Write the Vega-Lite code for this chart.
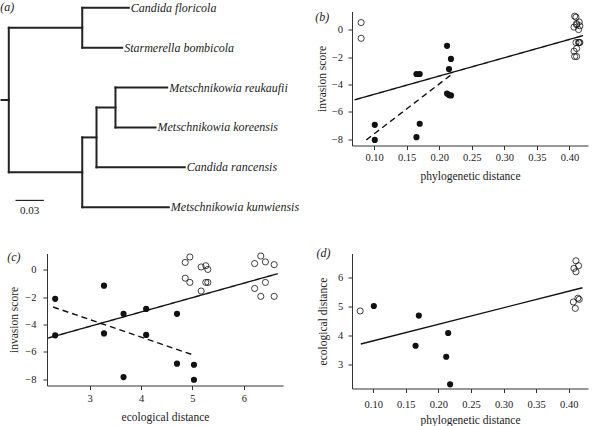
{
  "$schema": "https://vega.github.io/schema/vega-lite/v6.json",
  "padding": {"left": 0, "top": 0.5, "right": 5, "bottom": 0},
  "background": "white",
  "columns": 2,
  "spacing": {"row": 108, "column": 69},
  "bounds": "flush",
  "align": "each",
  "datasets": {
    "tree": [
      {"x": -0.0077, "x2": 0, "y": 2.3125, "y2": 2.3125},
      {"x": 0, "x2": 0, "y": 0.5, "y2": 4.125},
      {"x": 0, "x2": 0.0778, "y": 0.5, "y2": 0.5},
      {"x": 0, "x2": 0.0778, "y": 4.125, "y2": 4.125},
      {"x": 0.0778, "x2": 0.0778, "y": 0, "y2": 1},
      {"x": 0.0778, "x2": 0.1271, "y": 0, "y2": 0},
      {"x": 0.0778, "x2": 0.1201, "y": 1, "y2": 1},
      {"x": 0.0778, "x2": 0.0778, "y": 3.25, "y2": 5},
      {"x": 0.0778, "x2": 0.0929, "y": 3.25, "y2": 3.25},
      {"x": 0.0778, "x2": 0.1695, "y": 5, "y2": 5},
      {"x": 0.0929, "x2": 0.0929, "y": 2.5, "y2": 4},
      {"x": 0.0929, "x2": 0.113, "y": 2.5, "y2": 2.5},
      {"x": 0.0929, "x2": 0.1864, "y": 4, "y2": 4},
      {"x": 0.113, "x2": 0.113, "y": 2, "y2": 3},
      {"x": 0.113, "x2": 0.1678, "y": 2, "y2": 2},
      {"x": 0.113, "x2": 0.1554, "y": 3, "y2": 3}
    ],
    "tips": [
      {"x": 0.1271, "y": 0, "name": "Candida floricola"},
      {"x": 0.1201, "y": 1, "name": "Starmerella bombicola"},
      {"x": 0.1678, "y": 2, "name": "Metschnikowia reukaufii"},
      {"x": 0.1554, "y": 3, "name": "Metschnikowia koreensis"},
      {"x": 0.1864, "y": 4, "name": "Candida rancensis"},
      {"x": 0.1695, "y": 5, "name": "Metschnikowia kunwiensis"}
    ],
    "scalebar": [
      {"x": 0.0071, "x2": 0.0371, "y": 4.83, "ly": 5.1, "mid": 0.0221, "label": "0.03"}
    ],
    "scores": [
      {"phylo": 0.101, "eco": 5.03, "score": -6.95, "closed": true},
      {"phylo": 0.101, "eco": 5.03, "score": -8.05, "closed": true},
      {"phylo": 0.165, "eco": 3.66, "score": -3.23, "closed": true},
      {"phylo": 0.165, "eco": 3.66, "score": -7.85, "closed": true},
      {"phylo": 0.17, "eco": 4.7, "score": -3.23, "closed": true},
      {"phylo": 0.17, "eco": 4.7, "score": -6.87, "closed": true},
      {"phylo": 0.212, "eco": 3.28, "score": -1.17, "closed": true},
      {"phylo": 0.212, "eco": 3.28, "score": -4.66, "closed": true},
      {"phylo": 0.215, "eco": 4.1, "score": -2.87, "closed": true},
      {"phylo": 0.215, "eco": 4.1, "score": -4.77, "closed": true},
      {"phylo": 0.218, "eco": 2.33, "score": -2.13, "closed": true},
      {"phylo": 0.218, "eco": 2.33, "score": -4.8, "closed": true},
      {"phylo": 0.08, "eco": 4.86, "score": 0.53, "closed": false},
      {"phylo": 0.08, "eco": 4.86, "score": -0.62, "closed": false},
      {"phylo": 0.41, "eco": 4.95, "score": 0.93, "closed": false},
      {"phylo": 0.41, "eco": 4.95, "score": -0.93, "closed": false},
      {"phylo": 0.407, "eco": 5.17, "score": 0.2, "closed": false},
      {"phylo": 0.407, "eco": 5.17, "score": -1.56, "closed": false},
      {"phylo": 0.416, "eco": 5.26, "score": 0.29, "closed": false},
      {"phylo": 0.416, "eco": 5.26, "score": -0.93, "closed": false},
      {"phylo": 0.414, "eco": 5.3, "score": 0.02, "closed": false},
      {"phylo": 0.414, "eco": 5.3, "score": -0.93, "closed": false},
      {"phylo": 0.411, "eco": 6.21, "score": 0.45, "closed": false},
      {"phylo": 0.411, "eco": 6.21, "score": -1.37, "closed": false},
      {"phylo": 0.408, "eco": 6.33, "score": 1.0, "closed": false},
      {"phylo": 0.408, "eco": 6.33, "score": -1.95, "closed": false},
      {"phylo": 0.415, "eco": 6.42, "score": 0.57, "closed": false},
      {"phylo": 0.415, "eco": 6.42, "score": -0.93, "closed": false},
      {"phylo": 0.411, "eco": 6.59, "score": 0.37, "closed": false},
      {"phylo": 0.411, "eco": 6.59, "score": -1.95, "closed": false}
    ],
    "fits": [
      {"panel": "b", "style": "solid", "phylo": 0.07, "score": -5.12},
      {"panel": "b", "style": "solid", "phylo": 0.421, "score": -0.42},
      {"panel": "b", "style": "dashed", "phylo": 0.088, "score": -8.05},
      {"panel": "b", "style": "dashed", "phylo": 0.222, "score": -3.15},
      {"panel": "c", "style": "solid", "eco": 2.19, "score": -5.0},
      {"panel": "c", "style": "solid", "eco": 6.66, "score": -0.29},
      {"panel": "c", "style": "dashed", "eco": 2.29, "score": -2.73},
      {"panel": "c", "style": "dashed", "eco": 5.02, "score": -6.24},
      {"panel": "d", "style": "solid", "phylo": 0.081, "eco": 3.72},
      {"panel": "d", "style": "solid", "phylo": 0.421, "eco": 5.66}
    ],
    "labels": [
      {"panel": "a", "label": "(a)"},
      {"panel": "b", "label": "(b)"},
      {"panel": "c", "label": "(c)"},
      {"panel": "d", "label": "(d)"}
    ]
  },
  "concat": [
    {
      "width": 236,
      "height": 134,
      "layer": [
        {
          "data": {"name": "tree"},
          "mark": {"type": "rule", "strokeWidth": 2, "color": "#222", "strokeCap": "square"},
          "encoding": {
            "x": {"field": "x", "type": "quantitative", "scale": {"domain": [0.04047, 0.29047], "nice": false, "zero": false}, "axis": null},
            "x2": {"field": "x2"},
            "y": {"field": "y", "type": "quantitative", "scale": {"domain": [0.0928, 3.4529], "reverse": true, "nice": false, "zero": false}, "axis": null},
            "y2": {"field": "y2"}
          }
        },
        {
          "data": {"name": "tips"},
          "mark": {"type": "text", "align": "left", "baseline": "middle", "dx": 2, "font": "Liberation Serif", "fontStyle": "italic", "fontSize": 12, "color": "#222"},
          "encoding": {
            "x": {"field": "x", "type": "quantitative"},
            "y": {"field": "y", "type": "quantitative"},
            "text": {"field": "name"}
          }
        },
        {
          "data": {"name": "scalebar"},
          "mark": {"type": "rule", "strokeWidth": 1.2, "color": "#222"},
          "encoding": {
            "x": {"field": "x", "type": "quantitative"},
            "x2": {"field": "x2"},
            "y": {"field": "y", "type": "quantitative"}
          }
        },
        {
          "data": {"name": "scalebar"},
          "mark": {"type": "text", "align": "center", "baseline": "middle", "font": "Liberation Serif", "fontSize": 11, "color": "#222"},
          "encoding": {
            "x": {"field": "mid", "type": "quantitative"},
            "y": {"field": "ly", "type": "quantitative"},
            "text": {"field": "label"}
          }
        },
        {
          "data": {"name": "labels"},
          "transform": [{"filter": "datum.panel == 'a'"}],
          "mark": {"type": "text", "align": "center", "baseline": "middle", "font": "Liberation Serif", "fontStyle": "italic", "fontSize": 12, "color": "#222"},
          "encoding": {
            "x": {"datum": -0.0017, "type": "quantitative"},
            "y": {"datum": -0.015, "type": "quantitative"},
            "text": {"field": "label"}
          }
        }
      ]
    },
    {
      "width": 236,
      "height": 134,
      "layer": [
        {
          "data": {"name": "scores"},
          "transform": [{"filter": "datum.closed"}],
          "mark": {"type": "point", "shape": "circle", "filled": true, "size": 38, "color": "#111", "opacity": 1},
          "encoding": {
            "x": {"field": "phylo", "type": "quantitative", "title": "phylogenetic distance", "scale": {"domain": [0.066, 0.4285], "nice": false, "zero": false}, "axis": {"values": [0.1, 0.15, 0.2, 0.25, 0.3, 0.35, 0.4], "tickCount": 20, "format": ".2f", "labelOverlap": false, "labelPadding": 3.2, "titleY": 31, "titleBaseline": "middle"}},
            "y": {"field": "score", "type": "quantitative", "title": "invasion score", "scale": {"domain": [-8.46, 1.34], "nice": false, "zero": false}, "axis": {"values": [-8, -6, -4, -2, 0], "tickCount": 20, "format": "d", "labelOverlap": false, "labelPadding": 5.4, "titleX": -29.5, "titleY": 67, "titleBaseline": "middle"}}
          }
        },
        {
          "data": {"name": "scores"},
          "transform": [{"filter": "!datum.closed"}],
          "mark": {"type": "point", "shape": "circle", "filled": false, "size": 38, "color": "#111", "strokeWidth": 0.8, "opacity": 1},
          "encoding": {
            "x": {"field": "phylo", "type": "quantitative"},
            "y": {"field": "score", "type": "quantitative"}
          }
        },
        {
          "data": {"name": "fits"},
          "transform": [{"filter": "datum.panel == 'b'"}],
          "mark": {"type": "line", "color": "#111", "strokeWidth": 1.4},
          "encoding": {
            "x": {"field": "phylo", "type": "quantitative"},
            "y": {"field": "score", "type": "quantitative"},
            "strokeDash": {"field": "style", "type": "nominal", "scale": {"domain": ["solid", "dashed"], "range": [[1, 0], [6, 4]]}, "legend": null}
          }
        },
        {
          "data": {"name": "labels"},
          "transform": [{"filter": "datum.panel == 'b'"}],
          "mark": {"type": "text", "align": "center", "baseline": "middle", "font": "Liberation Serif", "fontStyle": "italic", "fontSize": 12, "color": "#222"},
          "encoding": {
            "x": {"datum": 0.0202, "type": "quantitative"},
            "y": {"datum": 0.974, "type": "quantitative"},
            "text": {"field": "label"}
          }
        }
      ]
    },
    {
      "width": 236,
      "height": 132,
      "layer": [
        {
          "data": {"name": "scores"},
          "transform": [{"filter": "datum.closed"}],
          "mark": {"type": "point", "shape": "circle", "filled": true, "size": 38, "color": "#111", "opacity": 1},
          "encoding": {
            "x": {"field": "eco", "type": "quantitative", "title": "ecological distance", "scale": {"domain": [2.171, 6.762], "nice": false, "zero": false}, "axis": {"values": [3, 4, 5, 6], "tickCount": 20, "format": "d", "labelOverlap": false, "labelPadding": 3.5, "titleY": 32, "titleBaseline": "middle"}},
            "y": {"field": "score", "type": "quantitative", "title": "invasion score", "scale": {"domain": [-8.468, 1.185], "nice": false, "zero": false}, "axis": {"values": [-8, -6, -4, -2, 0], "tickCount": 20, "format": "d", "labelOverlap": false, "labelPadding": 7, "titleX": -33, "titleY": 66, "titleBaseline": "middle"}}
          }
        },
        {
          "data": {"name": "scores"},
          "transform": [{"filter": "!datum.closed"}],
          "mark": {"type": "point", "shape": "circle", "filled": false, "size": 38, "color": "#111", "strokeWidth": 0.8, "opacity": 1},
          "encoding": {
            "x": {"field": "eco", "type": "quantitative"},
            "y": {"field": "score", "type": "quantitative"}
          }
        },
        {
          "data": {"name": "fits"},
          "transform": [{"filter": "datum.panel == 'c'"}],
          "mark": {"type": "line", "color": "#111", "strokeWidth": 1.4},
          "encoding": {
            "x": {"field": "eco", "type": "quantitative"},
            "y": {"field": "score", "type": "quantitative"},
            "strokeDash": {"field": "style", "type": "nominal", "scale": {"domain": ["solid", "dashed"], "range": [[1, 0], [6, 4]]}, "legend": null}
          }
        },
        {
          "data": {"name": "labels"},
          "transform": [{"filter": "datum.panel == 'c'"}],
          "mark": {"type": "text", "align": "center", "baseline": "middle", "font": "Liberation Serif", "fontStyle": "italic", "fontSize": 12, "color": "#222"},
          "encoding": {
            "x": {"datum": 1.525, "type": "quantitative"},
            "y": {"datum": 0.936, "type": "quantitative"},
            "text": {"field": "label"}
          }
        }
      ]
    },
    {
      "width": 236,
      "height": 135,
      "layer": [
        {
          "data": {"name": "scores"},
          "transform": [{"aggregate": [{"op": "count", "as": "n"}], "groupby": ["phylo", "eco", "closed"]}, {"filter": "datum.closed"}],
          "mark": {"type": "point", "shape": "circle", "filled": true, "size": 38, "color": "#111", "opacity": 1},
          "encoding": {
            "x": {"field": "phylo", "type": "quantitative", "title": "phylogenetic distance", "scale": {"domain": [0.0675, 0.4295], "nice": false, "zero": false}, "axis": {"values": [0.1, 0.15, 0.2, 0.25, 0.3, 0.35, 0.4], "tickCount": 20, "format": ".2f", "labelOverlap": false, "labelPadding": 7, "titleY": 32, "titleBaseline": "middle"}},
            "y": {"field": "eco", "type": "quantitative", "title": "ecological distance", "scale": {"domain": [2.186, 6.841], "nice": false, "zero": false}, "axis": {"values": [3, 4, 5, 6], "tickCount": 20, "format": "d", "labelOverlap": false, "labelPadding": 5.3, "titleX": -29, "titleY": 67.5, "titleBaseline": "middle"}}
          }
        },
        {
          "data": {"name": "scores"},
          "transform": [{"aggregate": [{"op": "count", "as": "n"}], "groupby": ["phylo", "eco", "closed"]}, {"filter": "!datum.closed"}],
          "mark": {"type": "point", "shape": "circle", "filled": false, "size": 38, "color": "#111", "strokeWidth": 0.8, "opacity": 1},
          "encoding": {
            "x": {"field": "phylo", "type": "quantitative"},
            "y": {"field": "eco", "type": "quantitative"}
          }
        },
        {
          "data": {"name": "fits"},
          "transform": [{"filter": "datum.panel == 'd'"}],
          "mark": {"type": "line", "color": "#111", "strokeWidth": 1.4},
          "encoding": {
            "x": {"field": "phylo", "type": "quantitative"},
            "y": {"field": "eco", "type": "quantitative"}
          }
        },
        {
          "data": {"name": "labels"},
          "transform": [{"filter": "datum.panel == 'd'"}],
          "mark": {"type": "text", "align": "center", "baseline": "middle", "font": "Liberation Serif", "fontStyle": "italic", "fontSize": 12, "color": "#222"},
          "encoding": {
            "x": {"datum": 0.0238, "type": "quantitative"},
            "y": {"datum": 6.862, "type": "quantitative"},
            "text": {"field": "label"}
          }
        }
      ]
    }
  ],
  "config": {
    "view": {"stroke": null},
    "font": "Liberation Serif",
    "axis": {
      "grid": false,
      "domainColor": "#333",
      "domainWidth": 1,
      "tickColor": "#333",
      "tickWidth": 1,
      "tickSize": 4,
      "labelFont": "Liberation Serif",
      "labelFontSize": 10.5,
      "labelColor": "#222",
      "labelOverlap": false,
      "labelFlush": false,
      "titleFont": "Liberation Serif",
      "titleFontSize": 11.5,
      "titleFontWeight": "normal",
      "titleColor": "#222"
    }
  }
}
